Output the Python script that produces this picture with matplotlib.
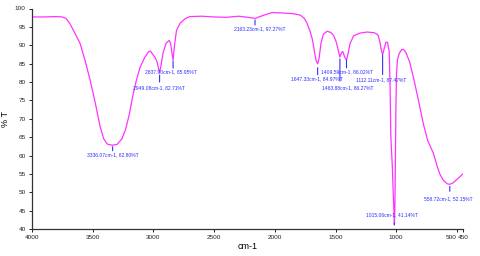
import matplotlib
matplotlib.use('Agg')
import matplotlib.pyplot as plt

# IR spectrum (wavenumber cm-1, transmittance %T)
wavenumber = [4000, 3900, 3800, 3750, 3720, 3690, 3650, 3605, 3560, 3522,
              3480, 3440, 3410, 3380, 3340, 3300, 3260, 3230, 3200, 3168,
              3140, 3110, 3070, 3040, 3025, 3005, 2985, 2970, 2955, 2949,
              2940, 2920, 2895, 2870, 2858, 2848, 2838, 2828, 2810, 2780,
              2740, 2700, 2600, 2500, 2400, 2300, 2220, 2180, 2163, 2140,
              2080, 2020, 1950, 1850, 1790, 1760, 1737, 1710, 1690, 1672,
              1660, 1647, 1635, 1620, 1600, 1570, 1540, 1515, 1495, 1480,
              1464, 1450, 1440, 1425, 1410, 1398, 1380, 1350, 1300, 1240,
              1180, 1150, 1135, 1122, 1112, 1100, 1085, 1072, 1062, 1058,
              1050, 1045, 1040, 1032, 1025, 1018, 1015, 1011, 1007, 1003,
              998, 990, 975, 955, 940, 920, 890, 860, 820, 776,
              740, 694, 660, 639, 610, 580, 559, 530, 500, 470,
              450]
transmittance = [97.7, 97.7, 97.8, 97.7, 97.3, 96.0, 93.5, 90.6, 85.5, 80.6,
                 74.5, 68.0, 64.6, 63.1, 62.8, 63.0, 64.5, 67.0, 71.0, 76.5,
                 80.5, 84.0, 86.8, 88.2, 88.4, 87.5, 86.6, 85.5, 83.3, 82.7,
                 84.0, 88.0, 90.6, 91.3, 90.5, 88.0, 85.95, 89.5, 94.0, 96.0,
                 97.2, 97.8, 97.9, 97.7, 97.6, 97.9, 97.6, 97.4, 97.27, 97.6,
                 98.3, 98.9, 98.8, 98.6, 98.2, 97.4, 96.2, 93.8, 91.5, 88.0,
                 85.8, 84.97, 86.5, 90.5, 93.0, 93.8, 93.5, 92.6, 91.0, 89.0,
                 86.8, 88.0, 88.3, 86.8, 86.0, 87.5, 90.5, 92.6, 93.3, 93.6,
                 93.4, 92.8, 91.0, 88.5, 87.47, 89.0, 90.8, 90.8, 89.0, 88.5,
                 78.0, 66.0, 62.0, 57.0, 50.0, 44.0, 41.14, 46.0, 58.0, 72.0,
                 82.0, 86.0, 87.8, 88.8, 88.9, 88.0, 85.5, 81.5, 75.5, 68.5,
                 64.0, 60.6, 56.8, 54.8, 53.2, 52.3, 52.15, 52.6, 53.5, 54.4,
                 55.0]

# labelled peaks
peak_wn = [3336.07, 2949.08, 2837.90, 2163.23, 1647.33, 1463.88, 1409.59,
           1112.11, 1015.06, 558.72]
peak_t = [62.80, 82.71, 85.95, 97.27, 84.97, 86.27, 86.02, 87.47, 41.14, 52.15]

x_ticks = [4000, 3500, 3000, 2500, 2000, 1500, 1000, 500, 450]
y_ticks = [40, 45, 50, 55, 60, 65, 70, 75, 80, 85, 90, 95, 100]

# marker line start/end and label centre, in pixels below the peak (neg = above)
marks = [(1.5, 5.5, 0, 10), (3, 10, -1, 16), (1, 8, -2, 12), (1.5, 6.5, 5, 10.5),
         (4, 11, -1, 15), (0, 22, 8, 29), (-3, 8, 1, 12), (0.5, 20, -1, 25.5),
         (-4, -2, -2, -10), (2, 7, -1, 14.5)]

plt.rcParams['font.family'] = ['Liberation Sans', 'DejaVu Sans']

fig = plt.figure(figsize=(4.8, 2.56), dpi=100)
ax = fig.add_axes([32 / 480, 1 - 229 / 256, 431 / 480, 220.5 / 256])

ax.plot(wavenumber, transmittance, color='#ff33ff', lw=0.9)

blue = '#3030ff'
for wn, t, (l1, l2, tdx, tdy) in zip(peak_wn, peak_t, marks):
    ax.annotate('', xy=(wn, t), xytext=(0, -l2), textcoords='offset pixels',
                arrowprops=dict(arrowstyle='-', color=blue, lw=0.8,
                                shrinkA=0, shrinkB=l1 / 1.389 if l1 > 0 else 0))
    ax.annotate('{:.2f}cm-1, {:.2f}%T'.format(wn, t), xy=(wn, t),
                xytext=(tdx, -tdy), textcoords='offset pixels',
                ha='center', va='center', fontsize=3.6, color=blue)

ax.set_xlim(4000, 450)
ax.set_ylim(40, 100)
ax.set_xticks(x_ticks)
ax.set_yticks(y_ticks)
ax.tick_params(labelsize=4.6, length=2.5, width=0.7, pad=2, colors='#222222')
# the two last labels sit side by side, like "500450"
xlabels = ax.get_xticklabels()
xlabels[-2].set_horizontalalignment('right')
for s in ['top', 'right']:
    ax.spines[s].set_visible(False)
for s in ['left', 'bottom']:
    ax.spines[s].set_color('#333333')
    ax.spines[s].set_linewidth(0.9)

ax.set_xlabel('cm-1', fontsize=6.5, labelpad=1)
ax.set_ylabel('% T', fontsize=6.5)
ax.yaxis.set_label_coords(-0.05, 0.5)

fig.savefig('out.png', dpi=100)
